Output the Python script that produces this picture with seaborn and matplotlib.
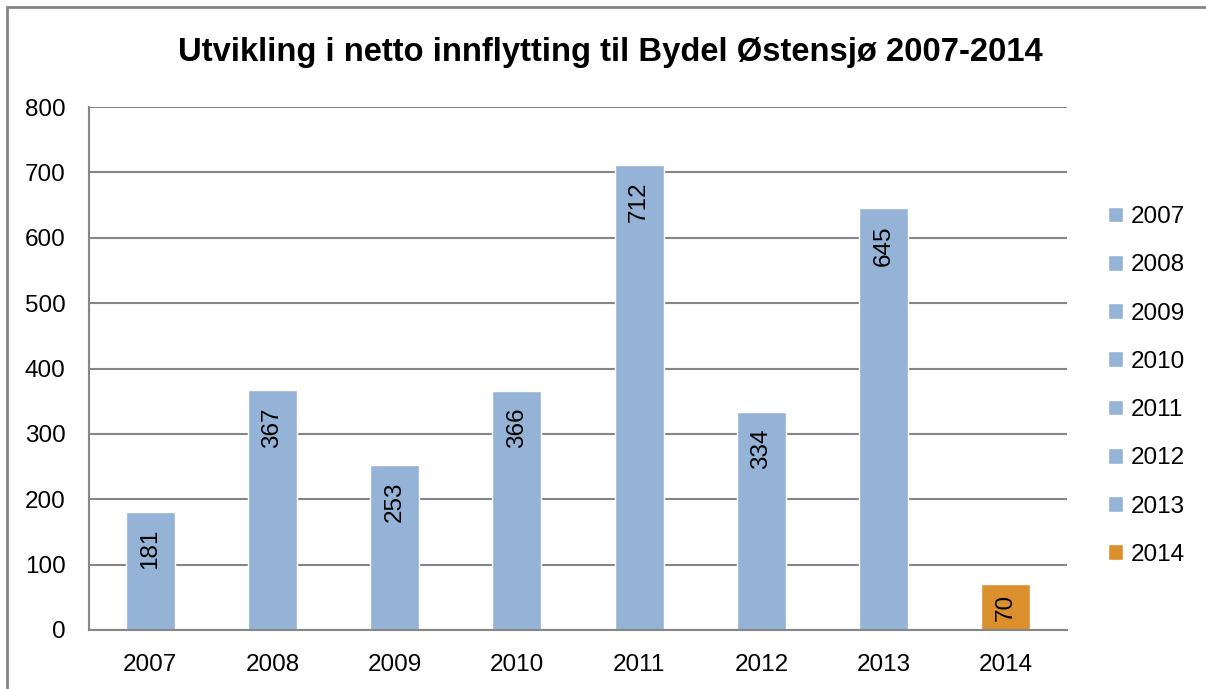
import matplotlib
matplotlib.use('Agg')
import matplotlib.pyplot as plt
from matplotlib.patches import Rectangle
import seaborn as sns
import pandas as pd

years = ['2007', '2008', '2009', '2010', '2011', '2012', '2013', '2014']
values = [181, 367, 253, 366, 712, 334, 645, 70]
blue = '#95B3D7'
orange = '#DB8F2D'
colors = [blue] * 7 + [orange]
title = 'Utvikling i netto innflytting til Bydel Østensjø 2007-2014'

sns.set_style('white')
plt.rcParams['font.family'] = ['Liberation Sans', 'DejaVu Sans']
plt.rcParams['text.color'] = 'black'
plt.rcParams['xtick.labelcolor'] = 'black'
plt.rcParams['ytick.labelcolor'] = 'black'
grey = '#868686'
fs = 17.5

df = pd.DataFrame({'year': years, 'value': values})

fig = plt.figure(figsize=(12.06, 6.89), dpi=100)
ax = fig.add_axes([89 / 1206, 1 - 630 / 689, (1067 - 89) / 1206, (630 - 107) / 689])

sns.barplot(data=df, x='year', y='value', hue='year', palette=colors,
            width=0.4, dodge=False, saturation=1, legend=True, ax=ax)

ax.set_ylim(0, 800)
ax.set_xlim(-0.5, len(years) - 0.5)
ax.set_yticks(range(0, 801, 100))
ax.yaxis.grid(True, color=grey, linewidth=1.5)
ax.set_axisbelow(True)
ax.set_xlabel('')
ax.set_ylabel('')

for s in ['top', 'right']:
    ax.spines[s].set_visible(False)
for s in ['left', 'bottom']:
    ax.spines[s].set_color(grey)
    ax.spines[s].set_linewidth(1.5)

ax.tick_params(axis='y', length=5, width=1.2, color=grey, pad=12, labelsize=fs)
ax.tick_params(axis='x', which='major', length=0, pad=17, labelsize=fs)
ax.set_xticks([i - 0.5 for i in range(len(years) + 1)], minor=True)
ax.tick_params(axis='x', which='minor', length=5, width=1.2, color=grey)

# value labels inside the bar tops, rotated
px_per_unit = (630 - 107) / 800
for i, v in enumerate(values):
    text_px = len(str(v)) * 13
    pad = min(17, (v * px_per_unit - text_px) / 2)
    ax.annotate(str(v), (i, v), xytext=(0, -pad), textcoords='offset pixels',
                rotation=90, ha='center', va='top', fontsize=fs)

handles, labels = ax.get_legend_handles_labels()
ax.legend(handles, labels, loc='center left', bbox_to_anchor=(1108 / 1206, 1 - 386 / 689),
          bbox_transform=fig.transFigure, frameon=False, fontsize=fs,
          handlelength=0.62, handleheight=0.62, handletextpad=0.3,
          labelspacing=1.08, borderpad=0, borderaxespad=0)

fig.text(610 / 1206, 1 - 52 / 689, title, ha='center', va='center',
         fontsize=23.6, fontweight='bold')

fig.patches.append(Rectangle((7 / 1206, -0.1), 1.2, 1 - 7 / 689 + 0.1,
                             transform=fig.transFigure, fill=False,
                             edgecolor=grey, linewidth=2))

fig.savefig('out.png', dpi=100)
